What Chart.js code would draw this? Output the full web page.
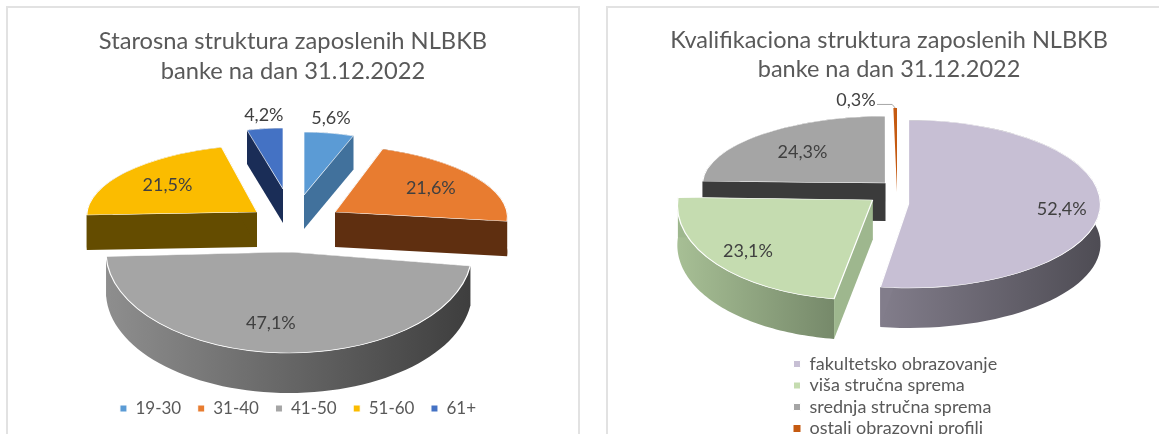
<!DOCTYPE html>
<html lang="en">
<head>
    <meta charset="UTF-8">
    <title>Struktura zaposlenih NLBKB</title>
    <script src="https://cdn.jsdelivr.net/npm/chart.js"></script>
    <style>
        html, body { margin: 0; padding: 0; background: #fff; width: 1159px; height: 434px; overflow: hidden; }
        .card { position: absolute; top: 6px; height: 440px; border: 2px solid #e2e2e2; box-sizing: border-box; }
        canvas { position: absolute; top: 7px; filter: blur(0.4px); }
    </style>
</head>
<body>
    <div class="card" style="left:6px;width:574px"></div>
    <div class="card" style="left:606px;width:566px"></div>
    <canvas id="ageChart" width="572" height="427" style="left:7px"></canvas>
    <canvas id="eduChart" width="564" height="427" style="left:607px"></canvas>
    <script>
        const ageLabels = ['19-30', '31-40', '41-50', '51-60', '61+'];
        const ageValues = [5.6, 21.6, 47.1, 21.5, 4.2];
        const ageTitle = ['Starosna struktura zaposlenih NLBKB', 'banke na dan 31.12.2022'];

        const eduLabels = ['fakultetsko obrazovanje', 'viša stručna sprema', 'srednja stručna sprema', 'ostali obrazovni profili'];
        const eduValues = [52.4, 23.1, 24.3, 0.3];
        const eduTitle = ['Kvalifikaciona struktura zaposlenih NLBKB', 'banke na dan 31.12.2022'];

        const FONT = 'Lato, Carlito, sans-serif';
        const RADIUS = 150;

        // how each slice sits in the fake 3d view (excel style exploded pie)
        const ageLook = {
            center: [286, 218],
            legendShift: 5,
            colors: ['#5b9bd5', '#e87c30', '#a5a5a5', '#fbbc00', '#4472c4'],
            edges: [1, 1, 1, 1, 1],
            shift: [[11, -30], [42, -13], [-4, 27], [-36, -13], [-10, -36]],
            span: [[143, 63], [172, 67], [183, 101], [170, 67], [138, 61]],
            skew: [0, 0.19, 0, -0.14, 0],
            depth: [34, 35, 40, 35, 34],
            wallFrom: ['#41719c', '#5f2f10', '#8e8e8e', '#644c00', '#1a2d57'],
            wallTo: ['#41719c', '#5f2f10', '#3e3e3e', '#644c00', '#1a2d57'],
            face: ['#41719c', '#5f2f10', null, '#644c00', '#1a2d57'],
            labelAt: [1.24, 0.68, 0.71, 0.68, 1.22],
            labelNudge: [[-4, 0], [0, 0], [-12, 0], [0, 0], [3, 0]]
        };
        const eduLook = {
            center: [288, 196],
            legendShift: 183,
            colors: ['#c7bfd4', '#c5dcb0', '#a5a5a5', '#c55a11'],
            edges: [1, 1, 1, 0],
            shift: [[13.5, 1], [-22.4, -3], [-9.5, -20], [2, -11]],
            span: [[192, 84], [195, 100], [183, 67], [192, 84]],
            skew: [0, -0.1, -0.05, 0],
            depth: [40, 40, 38, 0],
            wallFrom: ['#827d8b', '#a7bf95', '#3b3b3b', '#7a3a0c'],
            wallTo: ['#4e4c54', '#76896a', '#3b3b3b', '#7a3a0c'],
            face: ['#827d8b', '#9eb78e', '#3b3b3b', '#7a3a0c'],
            labelAt: [0.8, 0.8, 0.656, 1.09],
            labelNudge: [[0, 0], [0, 0], [0, 0], [-39, 0]],
            leader: 3
        };

        function sliceView(arc, i, look) {
            const [sw, sh] = look.span[i];
            const sx = sw / RADIUS, sy = sh / RADIUS;
            const px = look.center[0] + look.shift[i][0];
            const py = look.center[1] + look.shift[i][1];
            const skew = look.skew[i];
            return {
                px, py, sx, sy, skew,
                toScreen: (a, r, drop) => {
                    const yy = Math.sin(a) * r * sy;
                    return [px + Math.cos(a) * r * sx + skew * yy, py + yy + (drop || 0)];
                }
            };
        }

        function drawWalls(ctx, arc, i, look, view) {
            const r = arc.outerRadius, h = look.depth[i];
            if (!h) return;
            const steps = 64;
            const top = [], bottom = [];
            for (let s = 0; s <= steps; s++) {
                const a = arc.startAngle + (arc.endAngle - arc.startAngle) * s / steps;
                top.push(view.toScreen(a, r, 0));
                bottom.push(view.toScreen(a, r, h));
            }
            const xs = top.map(p => p[0]);
            const grad = ctx.createLinearGradient(Math.min(...xs), 0, Math.max(...xs), 0);
            grad.addColorStop(0, look.wallFrom[i]);
            grad.addColorStop(1, look.wallTo[i]);

            ctx.beginPath();
            top.forEach((p, n) => n ? ctx.lineTo(p[0], p[1]) : ctx.moveTo(p[0], p[1]));
            bottom.reverse().forEach(p => ctx.lineTo(p[0], p[1]));
            ctx.closePath();
            ctx.fillStyle = grad;
            ctx.fill();

            // the two cut faces
            [arc.startAngle, arc.endAngle].forEach(a => {
                const e = view.toScreen(a, r, 0);
                ctx.beginPath();
                ctx.moveTo(view.px, view.py);
                ctx.lineTo(e[0], e[1]);
                ctx.lineTo(e[0], e[1] + h);
                ctx.lineTo(view.px, view.py + h);
                ctx.closePath();
                ctx.fillStyle = look.face[i] || grad;
                ctx.fill();
            });
        }

        const pie3d = {
            id: 'pie3d',
            afterLayout(chart, args, opts) {
                // legend keeps its stacking, only moved sideways under the pie
                chart.legend.left += opts.look.legendShift;
                chart.legend.right += opts.look.legendShift;
            },
            beforeDatasetDraw() {
                return false; // slices are drawn below, one by one
            },
            afterDatasetsDraw(chart, args, opts) {
                const look = opts.look;
                const ctx = chart.ctx;
                const arcs = chart.getDatasetMeta(0).data;
                const order = arcs.map((arc, i) => i)
                    .sort((a, b) => look.shift[a][1] - look.shift[b][1]);
                order.forEach(i => {
                    const arc = arcs[i];
                    const view = sliceView(arc, i, look);
                    drawWalls(ctx, arc, i, look, view);
                    ctx.save();
                    ctx.translate(view.px, view.py);
                    ctx.transform(view.sx, 0, view.skew * view.sy, view.sy, 0, 0);
                    ctx.translate(-arc.x, -arc.y);
                    arc.draw(ctx);
                    ctx.restore();
                });
            },
            afterDraw(chart, args, opts) {
                const look = opts.look;
                const ctx = chart.ctx;
                const arcs = chart.getDatasetMeta(0).data;
                const values = chart.data.datasets[0].data;
                ctx.save();
                ctx.font = '18px ' + FONT;
                ctx.fillStyle = '#404040';
                ctx.textAlign = 'center';
                ctx.textBaseline = 'middle';
                arcs.forEach((arc, i) => {
                    const view = sliceView(arc, i, look);
                    const mid = (arc.startAngle + arc.endAngle) / 2;
                    const p = view.toScreen(mid, arc.outerRadius * look.labelAt[i], 0);
                    const x = p[0] + look.labelNudge[i][0], y = p[1] + look.labelNudge[i][1];
                    ctx.fillText(values[i].toFixed(1).replace('.', ',') + '%', x, y);
                    if (look.leader === i) {
                        const tip = view.toScreen(mid, arc.outerRadius, 0);
                        ctx.beginPath();
                        ctx.moveTo(x + 21, y + 4);
                        ctx.lineTo(tip[0] - 3, y + 4);
                        ctx.lineTo(tip[0], tip[1]);
                        ctx.strokeStyle = '#a6a6a6';
                        ctx.lineWidth = 1;
                        ctx.stroke();
                    }
                });
                ctx.restore();
            }
        };

        function makePie(id, labels, values, title, titleSize, look, legend, padding) {
            return new Chart(document.getElementById(id), {
                type: 'pie',
                data: {
                    labels: labels,
                    datasets: [{
                        data: values,
                        backgroundColor: look.colors,
                        borderColor: '#ffffff',
                        borderWidth: look.edges,
                        radius: RADIUS
                    }]
                },
                plugins: [pie3d],
                options: {
                    responsive: false,
                    animation: false,
                    layout: { padding: padding },
                    plugins: {
                        pie3d: { look: look },
                        tooltip: { enabled: false },
                        title: {
                            display: true,
                            text: title,
                            color: '#595959',
                            font: { family: FONT, size: titleSize, weight: 'normal', lineHeight: 1.27 },
                            padding: { top: 4, bottom: 8 }
                        },
                        legend: legend
                    }
                }
            });
        }

        makePie('ageChart', ageLabels, ageValues, ageTitle, 23.7, ageLook, {
            position: 'bottom',
            labels: { boxWidth: 7, boxHeight: 7, padding: 16.5, color: '#595959', font: { family: FONT, size: 17 } }
        }, { top: 15, bottom: 7, left: 0, right: 0 });

        makePie('eduChart', eduLabels, eduValues, eduTitle, 23.5, eduLook, {
            position: 'left',
            align: 'end',
            labels: { boxWidth: 7, boxHeight: 7, padding: 3.5, color: '#595959', font: { family: FONT, size: 18 } }
        }, { top: 14, bottom: -7, left: 0, right: 0 });
    </script>
</body>
</html>
